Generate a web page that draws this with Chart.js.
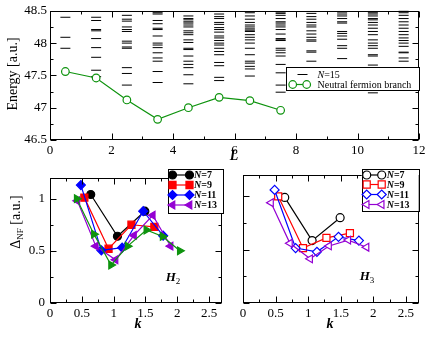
<!DOCTYPE html>
<html>
<head>
<meta charset="utf-8">
<script src="https://cdn.jsdelivr.net/npm/chart.js@4.4.1/dist/chart.umd.min.js"></script>
<style>
  body { margin: 0; background: #fff; }
  #wrap { position: relative; width: 436px; height: 337px; overflow: hidden; font-family: 'Liberation Serif', 'Times New Roman', serif; color: #000; }
  canvas { position: absolute; }
  .lbl { position: absolute; white-space: nowrap; line-height: 1; transform: translate(-50%, -50%); }
  .ttl { font-size: 14px; }
  .bi { font-weight: bold; font-style: italic; }
  .rot { transform: translate(-50%, -50%) rotate(-90deg); }
  sub { font-size: 9px; vertical-align: -3px; font-style: normal; font-weight: normal; }
</style>
</head>
<body>
<div id="wrap">
  <canvas id="top" width="436" height="165" style="left:0;top:0"></canvas>
  <canvas id="h2" width="228" height="172" style="left:0;top:165px"></canvas>
  <canvas id="h3" width="208" height="172" style="left:228px;top:165px"></canvas>

  <div class="lbl ttl rot" style="left:12.5px;top:74px">Energy [a.u.]</div>
  <div class="lbl ttl bi" style="left:234px;top:156px">L</div>
  <div class="lbl ttl rot" style="left:17px;top:222px">&Delta;<sub>NF</sub> [a.u.]</div>
  <div class="lbl ttl bi" style="left:138px;top:324px">k</div>
  <div class="lbl ttl bi" style="left:330px;top:324px">k</div>
  <div class="lbl bi" style="left:173px;top:278px;font-size:13px">H<sub>2</sub></div>
  <div class="lbl bi" style="left:367px;top:277px;font-size:13px">H<sub>3</sub></div>
</div>
<script>
// ---- top panel: spectrum of N=15 vs L, and the neutral fermion branch ----
const branchL = [0.5, 1.5, 2.5, 3.5, 4.5, 5.5, 6.5, 7.5];
const branchE = [47.56, 47.46, 47.12, 46.82, 47.00, 47.16, 47.11, 46.96];

const levelL = [0.5, 1.5, 2.5, 3.5, 4.5, 5.5, 6.5, 7.5, 8.5, 9.5, 10.5, 11.5];
const lev05 = [48.40, 48.09, 47.92];
const lev15 = [48.40, 48.35, 48.21, 48.19, 48.07, 47.93, 47.78, 47.58, 47.48];
const lev25 = [48.43, 48.37, 48.34, 48.25, 48.21, 48.18, 48.03, 48.00, 47.94, 47.92, 47.62, 47.53, 47.35];
const lev35 = [48.47, 48.45, 48.35, 48.30, 48.23, 48.21, 48.11, 48.00, 47.97, 47.93, 47.85, 47.77, 47.72, 47.56, 47.39];
const lev45 = [48.42, 48.38, 48.36, 48.33, 48.31, 48.28, 48.25, 48.19, 48.16, 48.13, 48.05, 48.01, 47.92, 47.90, 47.80, 47.72, 47.67, 47.62, 47.51, 47.37];
const lev55 = [48.49, 48.45, 48.41, 48.38, 48.32, 48.29, 48.24, 48.21, 48.17, 48.11, 48.08, 48.04, 48.00, 47.97, 47.92, 47.87, 47.82, 47.70, 47.65, 47.47, 47.42];
const lev65 = [48.47, 48.42, 48.37, 48.32, 48.28, 48.25, 48.22, 48.20, 48.18, 48.13, 48.09, 48.05, 48.00, 47.92, 47.82, 47.72, 47.69, 47.64, 47.60, 47.49];
const lev75 = [48.48, 48.46, 48.43, 48.38, 48.33, 48.31, 48.28, 48.25, 48.21, 48.14, 48.07, 48.05, 48.04, 47.92, 47.89, 47.85, 47.80, 47.67, 47.54, 47.35, 47.24];
const lev85 = [48.49, 48.46, 48.41, 48.37, 48.32, 48.28, 48.25, 48.19, 48.14, 48.09, 48.05, 48.03, 47.88, 47.86, 47.72];
const lev95 = [48.48, 48.45, 48.42, 48.38, 48.33, 48.31, 48.18, 48.15, 48.11, 48.06, 47.96, 47.92, 47.76];
const lev105 = [48.49, 48.47, 48.45, 48.42, 48.38, 48.36, 48.32, 48.28, 48.23, 48.18, 48.13, 48.05, 48.00, 47.96, 47.92, 47.82, 47.80, 47.66, 47.62, 47.23];
const lev115 = [48.50, 48.47, 48.43, 48.38, 48.33, 48.28, 48.23, 48.18, 48.13, 48.08, 48.04, 48.00, 47.95, 47.86, 47.85, 47.77, 47.72, 47.62, 47.52, 47.47];
const levels = [lev05, lev15, lev25, lev35, lev45, lev55, lev65, lev75, lev85, lev95, lev105, lev115];

const topXTicks = [0, 2, 4, 6, 8, 10, 12];
const topXMinor = [1, 3, 5, 7, 9, 11];
const topYTicks = [46.5, 47, 47.5, 48, 48.5];
const topYMinor = [46.75, 47.25, 47.75, 48.25];

// ---- bottom panels: neutral fermion gap vs k ----
const k7 = [0.64, 1.06, 1.49];
const k9 = [0.54, 0.92, 1.28, 1.64];
const k11 = [0.485, 0.807, 1.134, 1.465, 1.778];
const k13 = [0.43, 0.72, 1.03, 1.32, 1.615, 1.895];
const k15 = [0.42, 0.69, 0.96, 1.22, 1.515, 1.77, 2.04];

const h2n7 = [1.04, 0.64, 0.88];
const h2n9 = [1.01, 0.52, 0.75, 0.73];
const h2n11 = [1.13, 0.505, 0.53, 0.88, 0.645];
const h2n13 = [0.98, 0.545, 0.414, 0.648, 0.841, 0.545];
const h2n15 = [1.0, 0.66, 0.364, 0.545, 0.70, 0.638, 0.50];

const h3n7 = [0.99, 0.585, 0.80];
const h3n9 = [1.0, 0.515, 0.61, 0.655];
const h3n11 = [1.06, 0.515, 0.48, 0.62, 0.585];
const h3n13 = [0.94, 0.56, 0.414, 0.535, 0.59, 0.523];

const kTicks = [0, 0.5, 1, 1.5, 2, 2.5];
const kMinor = [0.25, 0.75, 1.25, 1.75, 2.25];
const gapTicks = [0, 0.5, 1];
const gapMinor = [0.25, 0.75];

const SERIF = "'Liberation Serif', 'Times New Roman', serif";
Chart.defaults.font.family = SERIF;
Chart.defaults.font.size = 13;
Chart.defaults.color = '#000';
Chart.defaults.animation = false;
Chart.defaults.events = [];
Chart.defaults.plugins.legend.display = false;
Chart.defaults.plugins.tooltip.enabled = false;

const GREEN = '#0e930e', RED = '#ff0000', BLUE = '#0000ff', VIOLET = '#9400d3';

function linAxis(min, max, tickVals, fitSize, isY, showLabels, pad) {
  return {
    type: 'linear', min, max,
    grid: { display: false, drawTicks: false },
    border: { display: false },
    ticks: { display: showLabels, padding: pad, autoSkip: false, maxRotation: 0, callback: v => String(v) },
    afterBuildTicks: s => { s.ticks = tickVals.map(v => ({ value: v })); },
    afterFit: s => { if (isY) s.width = fitSize; else s.height = fitSize; }
  };
}

function series(label, xs, ys, color, style, radius, filled, rot, order) {
  return {
    label, order,
    data: xs.map((x, i) => ({ x, y: ys[i] })),
    showLine: true, borderColor: color, borderWidth: 1.2,
    pointStyle: style, pointRadius: radius, pointRotation: rot || 0,
    pointBorderColor: color, pointBackgroundColor: filled ? color : '#fff', pointBorderWidth: 1.2
  };
}

function marker(ctx, ds, x, y) {
  ctx.fillStyle = ds.pointBackgroundColor;
  ctx.strokeStyle = ds.pointBorderColor;
  ctx.lineWidth = ds.pointBorderWidth;
  Chart.helpers.drawPoint(ctx, { pointStyle: ds.pointStyle, radius: ds.pointRadius, rotation: ds.pointRotation || 0, borderWidth: ds.pointBorderWidth }, x, y);
}

// frame with inward ticks on all four sides, plus a boxed legend
function frame(spec) {
  return {
    id: 'frame',
    afterDraw(chart) {
      const ctx = chart.ctx, a = chart.chartArea;
      const xs = chart.scales.x, ys = chart.scales.y;
      const L = Math.round(a.left) + 0.5, R = Math.round(a.right) - 0.5;
      const T = Math.round(a.top) + 0.5, B = Math.round(a.bottom) - 0.5;
      ctx.save();
      ctx.strokeStyle = '#000';
      ctx.lineWidth = 1;
      ctx.beginPath();
      const tick = (vals, len, isX) => vals.forEach(v => {
        if (isX) {
          const p = Math.round(xs.getPixelForValue(v)) + 0.5;
          ctx.moveTo(p, B); ctx.lineTo(p, B - len);
          ctx.moveTo(p, T); ctx.lineTo(p, T + len);
        } else {
          const p = Math.round(ys.getPixelForValue(v)) + 0.5;
          ctx.moveTo(L, p); ctx.lineTo(L + len, p);
          ctx.moveTo(R, p); ctx.lineTo(R - len, p);
        }
      });
      tick(spec.xMajor, 6, true); tick(spec.xMinor, 3, true);
      tick(spec.yMajor, 6, false); tick(spec.yMinor, 3, false);
      ctx.stroke();
      ctx.strokeRect(L, T, R - L, B - T);

      const lg = spec.legend;
      if (lg) {
        const b = lg.box;
        ctx.fillStyle = '#fff';
        ctx.fillRect(b[0], b[1], b[2], b[3]);
        ctx.strokeStyle = '#000';
        ctx.lineWidth = 1;
        ctx.strokeRect(Math.round(b[0]) + 0.5, Math.round(b[1]) + 0.5, Math.round(b[2]), Math.round(b[3]));
        lg.rows.forEach(r => {
          const ds = chart.data.datasets[r.ds];
          if (r.x2 !== undefined) {
            ctx.strokeStyle = ds.borderColor;
            ctx.lineWidth = ds.borderWidth;
            ctx.beginPath(); ctx.moveTo(r.x1, r.y); ctx.lineTo(r.x2, r.y); ctx.stroke();
            marker(ctx, ds, r.x1, r.y);
            marker(ctx, ds, r.x2, r.y);
          } else {
            marker(ctx, ds, r.x1, r.y);
          }
          let tx = lg.textX;
          ctx.fillStyle = '#000';
          ctx.textBaseline = 'middle';
          ctx.textAlign = 'left';
          r.text.forEach(p => {
            ctx.font = p[1];
            ctx.fillText(p[0], tx, r.y + 0.5);
            tx += ctx.measureText(p[0]).width;
          });
        });
      }
      ctx.restore();
    }
  };
}

// ---- top chart ----
const levelData = levelL.flatMap((L, i) => levels[i].map(e => ({ x: L, y: e })));
const topDatasets = [
  { label: 'N=15', order: 1, data: levelData, showLine: false, pointStyle: 'line', pointRadius: 5,
    pointBorderColor: '#000', pointBackgroundColor: '#000', pointBorderWidth: 1, borderColor: '#000', borderWidth: 1 },
  series('Neutral fermion branch', branchL, branchE, GREEN, 'circle', 3.8, false, 0, 0)
];
new Chart(document.getElementById('top'), {
  type: 'scatter',
  data: { datasets: topDatasets },
  options: {
    responsive: false,
    layout: { padding: { left: 0, right: 17, top: 9, bottom: 0 } },
    scales: {
      x: linAxis(0, 12, topXTicks, 25, false, true, 3),
      y: linAxis(46.5, 48.5, topYTicks, 50, true, true, 3)
    }
  },
  plugins: [frame({
    xMajor: topXTicks, xMinor: topXMinor, yMajor: topYTicks, yMinor: topYMinor,
    legend: {
      box: [286, 67, 133, 23], textX: 317.5,
      rows: [
        { ds: 0, y: 74.5, x1: 302.5, text: [['N', 'italic 10px ' + SERIF], ['=15', '10px ' + SERIF]] },
        { ds: 1, y: 84.5, x1: 292.7, x2: 306.7, text: [['Neutral fermion branch', '10px ' + SERIF]] }
      ]
    }
  })]
});

// ---- bottom charts ----
const BI = 'italic bold 10px ' + SERIF, B10 = 'bold 10px ' + SERIF;
function nRows(x1, x2, ys) {
  return ['=7', '=9', '=11', '=13'].map((t, i) => ({ ds: i, y: ys[i], x1, x2, text: [['N', BI], [t, B10]] }));
}

const h2Datasets = [
  series('N=7', k7, h2n7, '#000', 'circle', 4, true, 0, 5),
  series('N=9', k9, h2n9, RED, 'rect', 5, true, 0, 4),
  series('N=11', k11, h2n11, BLUE, 'rectRot', 4.5, true, 0, 3),
  series('N=13', k13, h2n13, VIOLET, 'triangle', 4.5, true, -90, 2),
  series('N=15', k15, h2n15, GREEN, 'triangle', 4.5, true, 90, 1)
];
new Chart(document.getElementById('h2'), {
  type: 'scatter',
  data: { datasets: h2Datasets },
  options: {
    responsive: false,
    layout: { padding: { left: 0, right: 5, top: 10, bottom: 0 } },
    scales: {
      x: linAxis(0, 2.7, kTicks, 34, false, true, 3),
      y: linAxis(0, 1.2, gapTicks, 50, true, true, 5)
    }
  },
  plugins: [frame({
    xMajor: kTicks, xMinor: kMinor, yMajor: gapTicks, yMinor: gapMinor,
    legend: { box: [168, 4, 55, 44], textX: 194, rows: nRows(172.5, 189.5, [10, 20, 30, 40]) }
  })]
});

const h3Datasets = [
  series('N=7', k7, h3n7, '#000', 'circle', 4, false, 0, 4),
  series('N=9', k9, h3n9, RED, 'rect', 5, false, 0, 3),
  series('N=11', k11, h3n11, BLUE, 'rectRot', 4.5, false, 0, 2),
  series('N=13', k13, h3n13, VIOLET, 'triangle', 4.5, false, -90, 1)
];
new Chart(document.getElementById('h3'), {
  type: 'scatter',
  data: { datasets: h3Datasets },
  options: {
    responsive: false,
    layout: { padding: { left: 0, right: 17, top: 10, bottom: 0 } },
    scales: {
      x: linAxis(0, 2.7, kTicks, 34, false, true, 3),
      y: linAxis(0, 1.2, gapTicks, 15, true, false, 5)
    }
  },
  plugins: [frame({
    xMajor: kTicks, xMinor: kMinor, yMajor: gapTicks, yMinor: gapMinor,
    legend: { box: [133.7, 4.3, 57, 42], textX: 158.7, rows: nRows(138.7, 153.7, [10, 19.5, 29.5, 39.5]) }
  })]
});
</script>
</body>
</html>
